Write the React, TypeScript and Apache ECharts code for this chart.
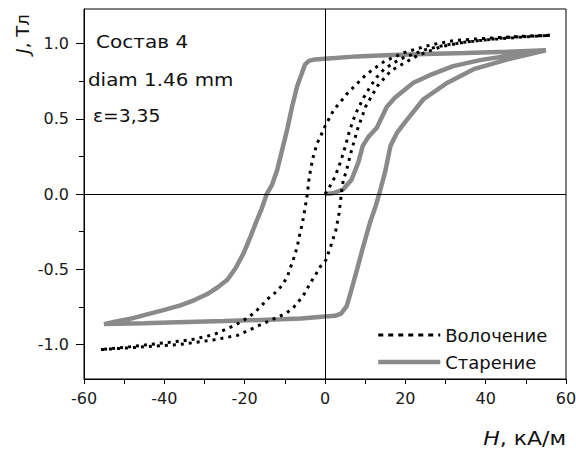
import React, { useEffect, useRef } from "react";
import * as echarts from "echarts";

// ---- Data (H in kA/m, J in T) ----
const drawnInitial: [number, number][] = [
  [0, 0], [1, 0.04], [2.2, 0.1], [3.3, 0.17], [4.3, 0.25], [5.2, 0.33], [6, 0.41],
  [7, 0.49], [8.1, 0.56], [9.6, 0.64], [11.4, 0.72], [13, 0.78], [14.7, 0.83],
  [17, 0.87], [19, 0.9], [22, 0.93], [25, 0.96], [30, 0.99], [35, 1.01], [40, 1.025],
  [45, 1.035], [50, 1.045], [56, 1.055],
];
const drawnDown: [number, number][] = [
  [56, 1.055], [50, 1.05], [43, 1.04], [37, 1.03], [32, 1.02], [28, 1.0], [24.7, 0.98],
  [19.7, 0.94], [14.7, 0.88], [12, 0.83], [9.7, 0.78], [7.5, 0.72], [5.6, 0.67],
  [3.8, 0.61], [2.2, 0.56], [1, 0.5], [0, 0.45], [-1, 0.39], [-1.9, 0.34], [-2.6, 0.28],
  [-3.1, 0.23], [-3.6, 0.16], [-4, 0.095], [-4.4, 0.0], [-5, -0.1], [-5.6, -0.19],
  [-6.3, -0.27], [-6.9, -0.35], [-7.7, -0.42], [-8.6, -0.49], [-9.4, -0.55],
  [-10.5, -0.6], [-11.9, -0.645], [-14.4, -0.7], [-16, -0.75], [-18.1, -0.8],
  [-20.5, -0.845], [-23.1, -0.88], [-27.7, -0.935], [-33.5, -0.97], [-40.1, -0.99],
  [-48.5, -1.015], [-56, -1.035],
];
const drawnUp: [number, number][] = [
  [-56, -1.035], [-50, -1.025], [-44.3, -1.015], [-36, -1.0], [-27.7, -0.97],
  [-21.8, -0.94], [-16.9, -0.88], [-11.9, -0.82], [-9.5, -0.79], [-7.7, -0.75],
  [-5.5, -0.68], [-3.6, -0.59], [-2.2, -0.53], [-1.1, -0.48], [0.2, -0.44],
  [1.4, -0.35], [2.7, -0.24], [3.5, -0.13], [3.9, -0.04], [4.2, 0.03], [4.6, 0.1],
  [5.2, 0.14], [6.4, 0.27], [8.1, 0.43], [10.1, 0.58], [13.1, 0.72], [16.4, 0.82],
  [19.7, 0.87], [23, 0.92], [28.9, 0.98], [35, 1.01], [45, 1.04], [56, 1.055],
];

const agedInitial: [number, number][] = [
  [0, 0], [2, 0.005], [4.5, 0.03], [6.6, 0.095], [8.3, 0.21], [9.4, 0.32], [10.8, 0.38],
  [12.9, 0.44], [15.4, 0.58], [17.4, 0.64], [22, 0.74], [26.1, 0.79], [31.9, 0.85],
  [38.6, 0.89], [46.9, 0.925], [55, 0.955],
];
const agedDown: [number, number][] = [
  [55, 0.955], [45, 0.945], [35, 0.937], [25, 0.93], [15, 0.922], [8, 0.915], [0, 0.9],
  [-2.5, 0.895], [-4, 0.885], [-5, 0.86], [-5.8, 0.8], [-6.9, 0.72], [-8.2, 0.58],
  [-9.4, 0.43], [-10.7, 0.29], [-11.9, 0.16], [-13.2, 0.06], [-14.5, 0.0],
  [-15.8, -0.1], [-16.9, -0.17], [-18.5, -0.28], [-20.2, -0.39], [-22.2, -0.49],
  [-24.3, -0.57], [-26.7, -0.62], [-29.3, -0.665], [-32.5, -0.705], [-36, -0.74],
  [-40, -0.77], [-44.3, -0.8], [-48.5, -0.83], [-52.6, -0.85], [-55, -0.865],
];
const agedUp: [number, number][] = [
  [-55, -0.865], [-45, -0.86], [-39, -0.855], [-25, -0.845], [-11, -0.833],
  [-6, -0.827], [0, -0.815], [2.5, -0.81], [4, -0.795], [5.4, -0.745], [6.6, -0.635],
  [8, -0.5], [9.5, -0.35], [11.2, -0.19], [12.5, -0.09], [13.5, 0], [15, 0.15],
  [16.3, 0.32], [18, 0.41], [19.7, 0.47], [24.5, 0.63], [30.5, 0.74], [37, 0.83],
  [45.5, 0.895], [55, 0.955],
];

const seriesNames = ["Волочение", "Старение"];
const yMajorTicks = [-1, -0.5, 0, 0.5, 1];
const yMinorTicks = [-0.75, -0.25, 0.25, 0.75];
const annotations = ["Состав 4", "diam 1.46 mm", "ε=3,35"];

const FONT = "DejaVu Sans";
const GRAY = "#8a8a8a";

export default function App() {
  const ref = useRef<HTMLDivElement>(null);
  useEffect(() => {
    if (!ref.current) return;
    const chart = echarts.init(ref.current, undefined, { renderer: "svg" });
    const drawn = [...drawnInitial, ...drawnDown.slice(1), ...drawnUp.slice(1)];
    const aged = [...agedInitial, ...agedDown.slice(1), ...agedUp.slice(1)];
    const yMin = -1.23;
    const yMax = 1.23;
    chart.setOption({
      animation: false,
      backgroundColor: "#ffffff",
      grid: {
        left: 84,
        right: 10,
        top: 9,
        bottom: 73,
        show: true,
        borderColor: "#000",
        borderWidth: 1,
        containLabel: false,
        outerBoundsMode: "none",
      },
      legend: {
        orient: "vertical",
        left: 371,
        top: 321,
        itemWidth: 62,
        itemHeight: 14,
        itemGap: 9,
        itemStyle: { opacity: 0, borderWidth: 0 },
        data: [
          { name: seriesNames[0], lineStyle: { color: "#000", width: 3, type: [5, 5] } },
          { name: seriesNames[1], lineStyle: { color: GRAY, width: 4.5, type: "solid" } },
        ],
        textStyle: { fontFamily: FONT, fontSize: 18, color: "#111" },
      },
      xAxis: {
        type: "value",
        min: -60,
        max: 60,
        interval: 10,
        axisLine: { show: true, onZero: false, lineStyle: { color: "#000", width: 1 } },
        axisTick: { show: true, inside: false, length: 5, lineStyle: { color: "#000" } },
        axisLabel: {
          formatter: (v: number) => (v % 20 === 0 ? String(v) : ""),
          margin: 11,
          fontFamily: FONT,
          fontSize: 16,
          color: "#1a1a1a",
        },
        splitLine: { show: false },
      },
      yAxis: [
        {
          type: "value",
          min: yMin,
          max: yMax,
          position: "left",
          axisLine: { show: true, onZero: false, lineStyle: { color: "#000", width: 1 } },
          axisTick: { show: true, inside: false, length: 8, customValues: yMajorTicks, lineStyle: { color: "#000" } },
          axisLabel: {
            customValues: yMajorTicks,
            formatter: (v: number) => v.toFixed(1),
            margin: 15,
            fontFamily: FONT,
            fontSize: 16,
            color: "#1a1a1a",
          },
          splitLine: { show: false },
        },
        {
          type: "value",
          min: yMin,
          max: yMax,
          position: "left",
          offset: 0,
          axisLine: { show: false, onZero: false },
          axisTick: { show: true, inside: false, length: 5, customValues: yMinorTicks, lineStyle: { color: "#000" } },
          axisLabel: { show: false },
          splitLine: { show: false },
        },
      ],
      series: [
        {
          name: seriesNames[1],
          type: "line",
          data: aged,
          showSymbol: false,
          symbol: "none",
          lineStyle: { color: GRAY, width: 4.5, type: "solid" },
          itemStyle: { color: GRAY },
          z: 3,
          markLine: {
            silent: true,
            symbol: ["none", "none"],
            label: { show: false },
            lineStyle: { color: "#000", width: 1, type: "solid" },
            data: [{ xAxis: 0 }, { yAxis: 0 }],
          },
        },
        {
          name: seriesNames[0],
          type: "line",
          data: drawn,
          showSymbol: false,
          symbol: "none",
          lineStyle: { color: "#000", width: 3, type: [3, 5], cap: "butt" },
          itemStyle: { color: "#000" },
          z: 4,
        },
      ],
      graphic: [
        {
          type: "text",
          x: 96,
          y: 42,
          scaleX: 1.18,
          style: { text: annotations[0], font: `17px "${FONT}"`, fill: "#111", verticalAlign: "middle", align: "left" },
        },
        {
          type: "text",
          x: 88,
          y: 80,
          scaleX: 1.17,
          style: { text: annotations[1], font: `17px "${FONT}"`, fill: "#111", verticalAlign: "middle", align: "left" },
        },
        {
          type: "text",
          x: 93,
          y: 116,
          scaleX: 1.1,
          style: { text: annotations[2], font: `17px "${FONT}"`, fill: "#111", verticalAlign: "middle", align: "left" },
        },
        {
          type: "text",
          x: 22,
          y: 34,
          rotation: Math.PI / 2,
          style: {
            text: "{i|J}, Тл",
            font: `18px "${FONT}"`,
            fill: "#111",
            align: "center",
            verticalAlign: "middle",
            rich: { i: { fontStyle: "italic", fontFamily: FONT, fontSize: 18, fill: "#111" } },
          },
        },
        {
          type: "text",
          x: 566,
          y: 438,
          scaleX: 1.1,
          style: {
            text: "{i|H}, кА/м",
            font: `20px "${FONT}"`,
            fill: "#111",
            align: "right",
            verticalAlign: "middle",
            rich: { i: { fontStyle: "italic", fontFamily: FONT, fontSize: 20, fill: "#111" } },
          },
        },
      ],
    });
    return () => chart.dispose();
  }, []);
  return (
    <div
      ref={ref}
      style={{ position: "fixed", left: 0, top: 0, width: 576, height: 452, background: "#fff" }}
    />
  );
}
